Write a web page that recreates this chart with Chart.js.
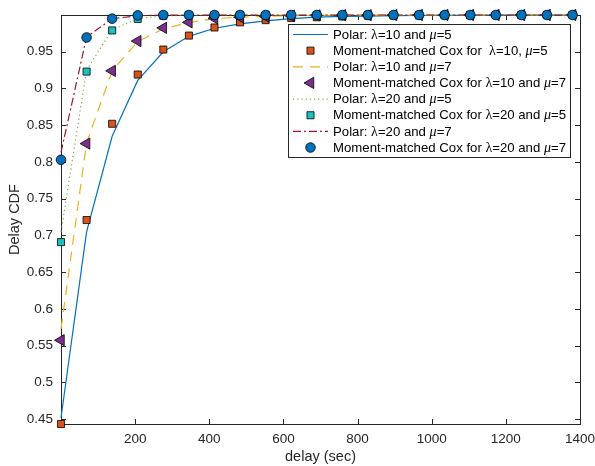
<!DOCTYPE html>
<html>
<head>
<meta charset="utf-8">
<script src="https://cdn.jsdelivr.net/npm/chart.js@4.4.0/dist/chart.umd.min.js"></script>
<style>
html, body { margin: 0; padding: 0; background: #fff; }
</style>
</head>
<body>
<canvas id="c" width="595" height="466"></canvas>
<script>
// delay grid (sec)
const delay = [0, 69, 138, 207, 276, 345, 414, 483, 552, 621, 690, 759, 828, 897, 966, 1035, 1104, 1173, 1242, 1311, 1380];

// lambda=10, mu=5
const polar10_5 = [0.452, 0.705, 0.835, 0.911, 0.950, 0.971, 0.982, 0.988, 0.992, 0.995, 0.997, 0.998, 0.9985, 0.999, 0.9993, 0.9995, 0.9996, 0.9997, 0.9998, 0.9999, 0.9999];
const cox10_5 = [0.4435, 0.721, 0.852, 0.919, 0.953, 0.972, 0.983, 0.990, 0.993, 0.996, 0.997, 0.998, 0.999, 0.9993, 0.9995, 0.9996, 0.9997, 0.9998, 0.9999, 0.9999, 1.0];

// lambda=10, mu=7
const polar10_7 = [0.573, 0.826, 0.924, 0.964, 0.981, 0.990, 0.995, 0.997, 0.998, 0.999, 0.9995, 0.9997, 0.9998, 0.9999, 1, 1, 1, 1, 1, 1, 1];
const cox10_7 = [0.5575, 0.825, 0.924, 0.9645, 0.9825, 0.990, 0.9955, 0.997, 0.998, 0.999, 0.9995, 0.9997, 0.9998, 0.9999, 1, 1, 1, 1, 1, 1, 1];

// lambda=20, mu=5
const polar20_5 = [0.705, 0.925, 0.980, 0.995, 0.999, 0.9997, 1, 1, 1, 1, 1, 1, 1, 1, 1, 1, 1, 1, 1, 1, 1];
const cox20_5 = [0.691, 0.923, 0.979, 0.9947, 0.999, 0.9997, 1, 1, 1, 1, 1, 1, 1, 1, 1, 1, 1, 1, 1, 1, 1];

// lambda=20, mu=7
const polar20_7 = [0.813, 0.970, 0.995, 0.999, 1, 1, 1, 1, 1, 1, 1, 1, 1, 1, 1, 1, 1, 1, 1, 1, 1];
const cox20_7 = [0.803, 0.9694, 0.995, 0.9995, 1, 1, 1, 1, 1, 1, 1, 1, 1, 1, 1, 1, 1, 1, 1, 1, 1];

const xTicks = [200, 400, 600, 800, 1000, 1200, 1400];
const yTicks = [0.45, 0.5, 0.55, 0.6, 0.65, 0.7, 0.75, 0.8, 0.85, 0.9, 0.95];

const legendLabels = [
    "Polar: λ=10 and μ=5",
    "Moment-matched Cox for  λ=10, μ=5",
    "Polar: λ=10 and μ=7",
    "Moment-matched Cox for λ=10 and μ=7",
    "Polar: λ=20 and μ=5",
    "Moment-matched Cox for λ=20 and μ=5",
    "Polar: λ=20 and μ=7",
    "Moment-matched Cox for λ=20 and μ=7"
];

const pts = (ys) => delay.map((x, i) => ({ x: x, y: ys[i] }));

function lineSet(ys, color, dash, order) {
    return {
        data: pts(ys), borderColor: color, borderWidth: 1.2, borderDash: dash,
        pointRadius: 0, fill: false, tension: 0, order: order, clip: false
    };
}
function markSet(ys, color, style, radius, rot, order) {
    return {
        data: pts(ys), showLine: false, backgroundColor: color, borderColor: "#000",
        borderWidth: 0.8, pointStyle: style, pointRadius: radius, pointRotation: rot,
        order: order, clip: false
    };
}

const datasets = [
    lineSet(polar10_5, "#0072BD", [], 8),
    markSet(cox10_5, "#D95319", "rect", 5, 0, 7),
    lineSet(polar10_7, "#EDB120", [10, 7], 6),
    markSet(cox10_7, "#7E2F8E", "triangle", 6.5, -90, 5),
    lineSet(polar20_5, "#77AC30", [1.2, 3], 4),
    markSet(cox20_5, "#1DBFBF", "rect", 5, 0, 3),
    lineSet(polar20_7, "#A2142F", [8, 3, 2, 3], 2),
    markSet(cox20_7, "#0072BD", "circle", 4.8, 0, 1)
];

const axisColor = "#262626";

// box + inward ticks, MATLAB style
const framePlugin = {
    id: "frame",
    beforeDatasetsDraw(chart) {
        const ctx = chart.ctx, a = chart.chartArea;
        const xs = chart.scales.x, ys = chart.scales.y;
        ctx.save();
        ctx.strokeStyle = axisColor;
        ctx.lineWidth = 1;
        ctx.beginPath();
        xTicks.forEach(v => {
            const px = Math.round(xs.getPixelForValue(v)) + 0.5;
            ctx.moveTo(px, a.bottom); ctx.lineTo(px, a.bottom - 5);
            ctx.moveTo(px, a.top); ctx.lineTo(px, a.top + 5);
        });
        yTicks.forEach(v => {
            const py = Math.round(ys.getPixelForValue(v)) + 0.5;
            ctx.moveTo(a.left, py); ctx.lineTo(a.left + 5, py);
            ctx.moveTo(a.right, py); ctx.lineTo(a.right - 5, py);
        });
        ctx.stroke();
        ctx.strokeRect(Math.round(a.left) + 0.5, Math.round(a.top) + 0.5,
            Math.round(a.right - a.left), Math.round(a.bottom - a.top));
        ctx.restore();
    }
};

function drawRich(ctx, text, x, y) {
    const parts = text.split(/([λμ])/);
    parts.forEach(p => {
        if (!p) return;
        if (p === "λ") ctx.font = "14px 'Liberation Serif'";
        else if (p === "μ") ctx.font = "italic 14px 'Liberation Serif'";
        else ctx.font = "13.2px 'Liberation Sans'";
        ctx.fillText(p, x, y);
        x += ctx.measureText(p).width;
    });
}

const legendPlugin = {
    id: "boxLegend",
    afterDraw(chart) {
        const ctx = chart.ctx;
        const bx = 288.5, by = 24.5, bw = 282, bh = 133;
        ctx.save();
        ctx.fillStyle = "#fff";
        ctx.fillRect(bx, by, bw, bh);
        ctx.strokeStyle = axisColor;
        ctx.lineWidth = 1;
        ctx.strokeRect(bx, by, bw, bh);
        ctx.textBaseline = "middle";
        ctx.textAlign = "left";
        datasets.forEach((ds, i) => {
            const cy = 34.5 + i * 16.15;
            if (ds.showLine === false) {
                ctx.fillStyle = ds.backgroundColor;
                ctx.strokeStyle = "#000";
                ctx.lineWidth = ds.borderWidth;
                Chart.helpers.drawPoint(ctx, {
                    pointStyle: ds.pointStyle, radius: ds.pointRadius,
                    rotation: ds.pointRotation, borderWidth: ds.borderWidth
                }, 310.5, cy);
            } else {
                ctx.strokeStyle = ds.borderColor;
                ctx.lineWidth = 1.2;
                ctx.setLineDash(ds.borderDash);
                ctx.beginPath();
                ctx.moveTo(293, cy); ctx.lineTo(328, cy);
                ctx.stroke();
                ctx.setLineDash([]);
            }
            ctx.fillStyle = "#000";
            drawRich(ctx, legendLabels[i], 333, cy + 0.5);
        });
        ctx.restore();
    }
};

new Chart(document.getElementById("c"), {
    type: "line",
    data: { datasets: datasets },
    options: {
        responsive: false,
        animation: false,
        devicePixelRatio: 1,
        layout: { padding: { left: 6, top: 15, right: 15, bottom: 0 } },
        plugins: { legend: { display: false }, tooltip: { enabled: false } },
        scales: {
            x: {
                type: "linear", min: 0, max: 1400,
                afterBuildTicks: s => { s.ticks = xTicks.map(v => ({ value: v })); },
                afterFit: s => { s.height = 42; s.paddingLeft = 0; s.paddingRight = 0; },
                grid: { display: false, drawTicks: false },
                border: { display: false },
                ticks: { color: axisColor, padding: 7, maxRotation: 0, callback: v => String(v), font: { family: "'Liberation Sans'", size: 13.5 } },
                title: { display: true, text: "delay (sec)", color: axisColor, padding: { top: 1, bottom: 0 }, font: { family: "'Liberation Sans'", size: 14.5 } }
            },
            y: {
                type: "linear", min: 0.4435, max: 1.0,
                afterBuildTicks: s => { s.ticks = yTicks.map(v => ({ value: v })); },
                afterFit: s => { s.width = 55; s.paddingTop = 0; s.paddingBottom = 0; },
                grid: { display: false, drawTicks: false },
                border: { display: false },
                ticks: { color: axisColor, padding: 8, callback: v => String(v), font: { family: "'Liberation Sans'", size: 13.5 } },
                title: { display: true, text: "Delay CDF", color: axisColor, padding: { top: 0, bottom: 0 }, font: { family: "'Liberation Sans'", size: 14.5 } }
            }
        }
    },
    plugins: [framePlugin, legendPlugin]
});
</script>
</body>
</html>
